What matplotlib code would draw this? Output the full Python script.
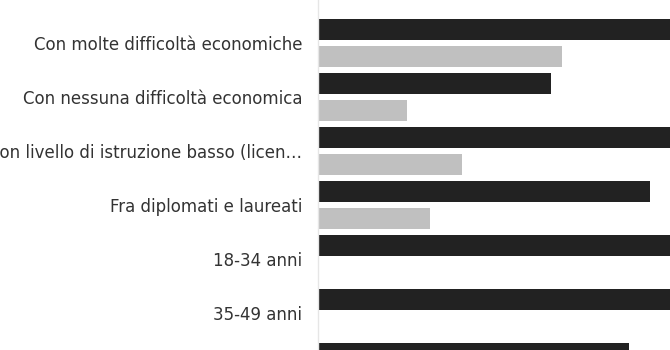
import matplotlib
matplotlib.use("Agg")
import matplotlib.pyplot as plt
from matplotlib import font_manager

categories = [
    "Con molte difficoltà economiche",
    "Con nessuna difficoltà economica",
    "Con livello di istruzione basso (licen…",
    "Fra diplomati e laureati",
    "18-34 anni",
    "35-49 anni",
    "50 anni e più",
]
series_dark = [40.0, 23.3, 40.0, 33.2, 40.0, 40.0, 31.1]
series_light = [24.4, 8.9, 14.4, 11.2, 0, 0, 0]

names = {f.name for f in font_manager.fontManager.ttflist}
fam = "Liberation Sans Narrow" if "Liberation Sans Narrow" in names else "DejaVu Sans"

W, H = 670, 350
fig = plt.figure(figsize=(W / 100, H / 100), dpi=100)
ax = fig.add_axes([318 / W, 0, 1 - 318 / W, 1])

n = len(categories)
idx = list(range(n))
ax.barh([i - 0.25 for i in idx], series_dark, height=0.4, color="#222222", align="center")
ax.barh([i + 0.25 for i in idx], series_light, height=0.4, color="#c0c0c0", align="center")

ax.set_yticks(idx)
ax.set_yticklabels(categories, fontsize=12, color="#333333", family=fam)
ax.set_xlim(0, 35.2)
ax.set_ylim((H - 43) / 54, -43 / 54)
ax.tick_params(axis="y", length=0, pad=11.5)
ax.set_xticks([])
for s in ["top", "right", "bottom"]:
    ax.spines[s].set_visible(False)
ax.spines["left"].set_color("#e6e6e6")
ax.spines["left"].set_linewidth(1)

fig.savefig("out.png", dpi=100)
